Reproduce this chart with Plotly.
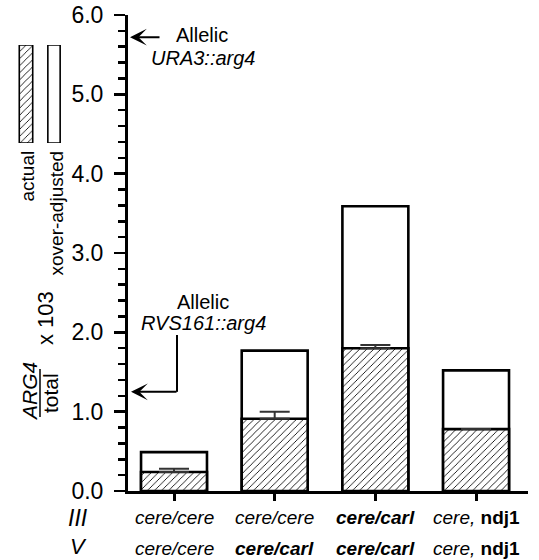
import plotly.graph_objects as go

# ---------------- data ----------------
chrom_III = ["<i>cere/cere</i>", "<i>cere/cere</i>", "<b><i>cere/carl</i></b>", "<i>cere,</i> <b>ndj1</b>"]
chrom_V = ["<i>cere/cere</i>", "<b><i>cere/carl</i></b>", "<b><i>cere/carl</i></b>", "<i>cere,</i> <b>ndj1</b>"]
row_names = ["<i>III</i>", "<i>V</i>"]
actual = [0.24, 0.91, 1.80, 0.78]
actual_err = [0.04, 0.09, 0.04, 0.0]
xover_adjusted = [0.49, 1.77, 3.59, 1.52]
series_names = ["actual", "xover-adjusted"]
ura3_level = 5.72
rvs161_level = 1.25
y_ticks = [0.0, 1.0, 2.0, 3.0, 4.0, 5.0, 6.0]

W, H = 539, 560
FONT = "Liberation Sans, Arial, Helvetica, sans-serif"

def px_x(p):
    return p / W

def px_y(p):
    return (H - p) / H

xpos = list(range(len(actual)))

hatch = dict(shape="/", size=5, solidity=0.17, fgcolor="black", bgcolor="white", fillmode="replace")

fig = go.Figure()
fig.add_trace(go.Bar(
    x=xpos, y=xover_adjusted, name=series_names[1], width=0.655,
    marker=dict(color="white", line=dict(color="black", width=2.6)),
    showlegend=False, xaxis="x", yaxis="y"))
fig.add_trace(go.Bar(
    x=xpos, y=actual, name=series_names[0], width=0.655,
    marker=dict(color="white", pattern=hatch, line=dict(color="black", width=2.6)),
    error_y=dict(type="data", array=actual_err, arrayminus=[0] * len(actual), symmetric=False,
                 color="#333333", thickness=2, width=15),
    showlegend=False, xaxis="x", yaxis="y"))

# legend swatches (custom)
fig.add_trace(go.Bar(x=[0], y=[1], width=0.48,
                     marker=dict(color="white", pattern=hatch, line=dict(color="black", width=1.6)),
                     showlegend=False, xaxis="x2", yaxis="y2", hoverinfo="skip"))
fig.add_trace(go.Bar(x=[1], y=[1], width=0.44,
                     marker=dict(color="white", line=dict(color="black", width=1.6)),
                     showlegend=False, xaxis="x2", yaxis="y2", hoverinfo="skip"))

fig.update_layout(
    width=W, height=H,
    margin=dict(l=0, r=0, t=0, b=0, pad=0, autoexpand=False),
    paper_bgcolor="white", plot_bgcolor="white",
    barmode="overlay", bargap=0,
    font=dict(family=FONT, color="black"),
    xaxis=dict(domain=[px_x(128), px_x(528)], range=[-0.457, 3.516], anchor="y",
               showline=True, linecolor="black", linewidth=3,
               tickvals=xpos, ticks="outside", ticklen=7, tickwidth=3, tickcolor="black",
               showticklabels=False, showgrid=False, zeroline=False, fixedrange=True),
    yaxis=dict(domain=[px_y(491), px_y(15)], range=[0, 6.0], anchor="x",
               showline=True, linecolor="black", linewidth=3,
               tickvals=y_ticks, tickformat=".1f", ticks="outside", ticklen=11, tickwidth=2.5,
               tickcolor="black", tickfont=dict(size=23, family=FONT), ticklabelstandoff=6,
               minor=dict(dtick=0.2, ticks="outside", ticklen=7, tickwidth=2.5, tickcolor="black"),
               showgrid=False, zeroline=False, fixedrange=True),
    xaxis2=dict(domain=[px_x(12), px_x(68)], range=[-0.5, 1.5], visible=False, fixedrange=True,
                anchor="y2"),
    yaxis2=dict(domain=[px_y(143), px_y(45)], range=[0, 1], visible=False, fixedrange=True,
                anchor="x2"),
)

ann = []
# category labels (two rows)
for i in xpos:
    ann.append(dict(x=i, y=px_y(517), xref="x", yref="paper", text=chrom_III[i], showarrow=False,
                    font=dict(size=19, family=FONT), xanchor="center", yanchor="middle"))
    ann.append(dict(x=i, y=px_y(548), xref="x", yref="paper", text=chrom_V[i], showarrow=False,
                    font=dict(size=19, family=FONT), xanchor="center", yanchor="middle"))
ann.append(dict(x=px_x(78), y=px_y(518), xref="paper", yref="paper", text=row_names[0], showarrow=False,
                font=dict(size=23, family=FONT), xanchor="center", yanchor="middle"))
ann.append(dict(x=px_x(78), y=px_y(546), xref="paper", yref="paper", text=row_names[1], showarrow=False,
                font=dict(size=22, family=FONT), xanchor="center", yanchor="middle"))

# legend labels
ann.append(dict(x=px_x(27), y=px_y(149), xref="paper", yref="paper", text=series_names[0], textangle=-90,
                showarrow=False, font=dict(size=19, family=FONT), xanchor="center", yanchor="top"))
ann.append(dict(x=px_x(56), y=px_y(149), xref="paper", yref="paper", text=series_names[1], textangle=-90,
                showarrow=False, font=dict(size=19, family=FONT), xanchor="center", yanchor="top"))

# y-axis title as a fraction
ann.append(dict(x=px_x(29), y=px_y(392), xref="paper", yref="paper", text="<i>ARG4</i>", textangle=-90,
                showarrow=False, font=dict(size=21, family=FONT), xanchor="center", yanchor="middle"))
ann.append(dict(x=px_x(50), y=px_y(393), xref="paper", yref="paper", text="total", textangle=-90,
                showarrow=False, font=dict(size=21, family=FONT), xanchor="center", yanchor="middle"))
ann.append(dict(x=px_x(45), y=px_y(318), xref="paper", yref="paper", text="x 103", textangle=-90,
                showarrow=False, font=dict(size=22, family=FONT), xanchor="center", yanchor="middle"))

# Allelic markers
def dx(p):
    return (p - 174) / 100.67

def dy(p):
    return (491 - p) / 79.33

ann.append(dict(x=dx(202), y=dy(35), xref="x", yref="y", text="Allelic", showarrow=False,
                font=dict(size=20, family=FONT)))
ann.append(dict(x=dx(203), y=dy(58), xref="x", yref="y", text="<i>URA3::arg4</i>", showarrow=False,
                font=dict(size=20, family=FONT)))
ann.append(dict(x=dx(130), y=ura3_level, xref="x", yref="y", ax=dx(161), ay=ura3_level,
                axref="x", ayref="y", text="", showarrow=True, arrowhead=3, arrowsize=1.4,
                arrowwidth=2, arrowcolor="black"))

ann.append(dict(x=dx(203), y=dy(302), xref="x", yref="y", text="Allelic", showarrow=False,
                font=dict(size=20, family=FONT)))
ann.append(dict(x=dx(203), y=dy(323), xref="x", yref="y", text="<i>RVS161::arg4</i>", showarrow=False,
                font=dict(size=20, family=FONT)))
ann.append(dict(x=dx(131), y=rvs161_level, xref="x", yref="y", ax=dx(178), ay=rvs161_level,
                axref="x", ayref="y", text="", showarrow=True, arrowhead=3, arrowsize=1.4,
                arrowwidth=2, arrowcolor="black"))

fig.update_layout(annotations=ann)

shapes = [
    # RVS161 elbow connector
    dict(type="line", xref="x", yref="y", x0=dx(177), x1=dx(177), y0=rvs161_level, y1=dy(335),
         line=dict(color="black", width=2)),
    # fraction bar of the y title
    dict(type="line", xref="paper", yref="paper", x0=px_x(40), x1=px_x(40), y0=px_y(369), y1=px_y(417),
         line=dict(color="black", width=1.5)),
]
fig.update_layout(shapes=shapes)

fig.write_html("out.html",
               config={"displayModeBar": False, "staticPlot": True},
               post_script="document.body.style.margin='0';document.body.style.padding='0';"
                           "document.body.style.overflow='hidden';")
